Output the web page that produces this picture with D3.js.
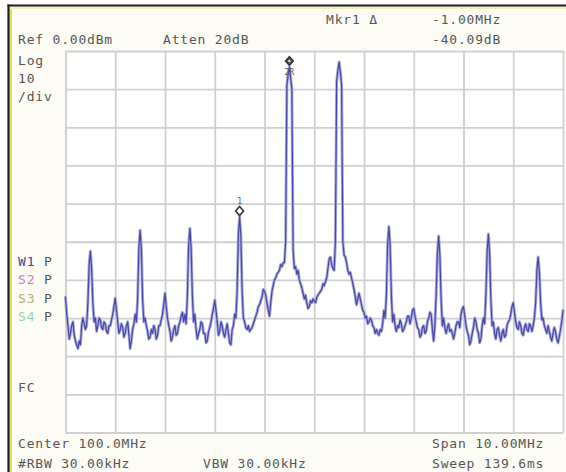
<!DOCTYPE html>
<html>
<head>
<meta charset="utf-8">
<script src="https://cdn.jsdelivr.net/npm/d3@7"></script>
<style>
  html, body { margin: 0; padding: 0; background: #ffffff; }
  svg { display: block; }
  text { font-family: "DejaVu Sans Mono", "Liberation Mono", monospace; font-size: 13px; letter-spacing: 0.8px; fill: #555; }
</style>
</head>
<body>
<svg id="chart" width="566" height="472"></svg>
<script>
// ---------------- data ----------------
const startFreq = 95.0;      // MHz (Center 100 MHz, Span 10 MHz)
const stepFreq = 0.025;      // MHz per trace point
const freqTicks = [95, 96, 97, 98, 99, 100, 101, 102, 103, 104, 105];
const levelTicks = [0, -10, -20, -30, -40, -50, -60, -70, -80, -90, -100];
// trace levels (dBm), one per 25 kHz from 95.000 to 105.000 MHz (40 per MHz)
const traceLevels = [
  // 95 MHz
  -64.5,-69,-72,-75.5,-74,-72,-71,-74.5,-76,-77,-78,-76,-77,-72,-70,-71.5,-73,-72,-66,-56,
  -52.5,-57,-66,-71,-70,-73.5,-72,-70,-70.5,-72.5,-73,-71,-71.5,-73.5,-74,-72,-72,-70.5,-69,-67,
  // 96 MHz
  -64.8,-68,-71,-74,-73,-71.5,-72.5,-75,-74,-72,-71,-74.5,-78,-76,-73,-71.5,-69,-71,-65,-51.5,
  -47,-52,-65,-71,-70,-72,-73.5,-75.5,-75,-73,-74,-72,-73,-75.5,-74.5,-72,-72,-70.5,-69,-66.5,
  // 97 MHz
  -63.5,-67,-70,-72,-73.5,-76,-75,-73,-72,-74.5,-74,-72,-71,-69.5,-68.5,-71,-69,-71.5,-64,-51,
  -46.5,-51.5,-64,-71,-69,-73,-75.5,-74,-73,-71,-71.5,-74,-74,-76.5,-76,-73.5,-72.5,-71,-69,-67.5,
  // 98 MHz
  -65.3,-68,-71,-74.5,-73.5,-71,-72,-74,-75,-73,-71.5,-74,-76.5,-77,-73,-72,-69,-70,-63,-48,
  -43.5,-48.5,-63,-70,-71,-72.5,-73,-72,-73.5,-73,-72.5,-71.5,-70.5,-69.5,-68.5,-67,-66.5,-65.5,-64.5,-62.5,
  // 99 MHz
  -63,-64,-66,-68,-69.5,-66,-63,-61.5,-60,-59.5,-58.5,-58,-57.5,-56,-56.5,-55.5,-55.5,-50,-9,-6,
  -4.2,-7,-10,-52,-57,-56.5,-58.5,-57.5,-60,-61,-62,-63.5,-65,-64,-66,-67.5,-67,-65.5,-66,-65,
  // 100 MHz
  -65.5,-66,-64.5,-64,-63.5,-63,-62.5,-61,-61.5,-60.5,-59.5,-57,-54.5,-54,-56,-57,-57.5,-50,-8,-5,
  -2.9,-5.5,-9,-50,-53.5,-54,-55.5,-57.5,-58.5,-58,-59.5,-61,-62.5,-64.5,-66.5,-65,-63.5,-65,-66.5,-68,
  // 101 MHz
  -68.5,-70,-69.5,-71.5,-71,-70,-70.5,-72,-72.5,-74,-73,-74,-74.5,-73,-73.5,-71.5,-68,-70,-64,-50.5,
  -46,-51,-64,-71,-69,-72,-73.5,-72,-72.5,-70.5,-71.5,-73.5,-73,-72,-71,-69.5,-69.5,-71.5,-70,-68,
  // 102 MHz
  -67.5,-69.5,-71,-72.5,-73,-75,-74.5,-72.5,-72,-74,-73.5,-71,-70,-68.5,-69,-73,-76,-72,-64,-53,
  -48.5,-53.5,-65,-72,-70,-72.5,-74,-72.5,-71.5,-73.5,-73,-74,-75.5,-74,-72,-71,-71,-72.5,-69,-67.5,
  // 103 MHz
  -67,-69.5,-72,-73.5,-74.5,-77,-76,-74,-72.5,-70,-71,-73,-74,-76.5,-75.5,-72,-70,-71.5,-64,-52.5,
  -48,-53,-65,-72,-71,-74,-75.5,-73,-72.5,-74.5,-76,-74,-73,-75,-74.5,-72,-71,-70.5,-69,-67,
  // 104 MHz
  -66,-68.5,-71,-72.5,-73,-71,-72,-74,-74.5,-72.5,-71.5,-73,-73.5,-71.5,-72,-73.5,-72,-70,-66,-57.5,
  -54,-58,-66,-70.5,-70,-72,-73,-74,-72,-73.5,-75,-76,-74,-72.5,-73.5,-75.5,-76.5,-75,-73,-71,
  // 105 MHz
  -68
];
const markerFreqs = [98.5, 99.5];
const markerNames = ["1", "2R"];
const headerTexts = [
  { t: "Mkr1 \u0394", x: 326, y: 24 },
  { t: "-1.00MHz", x: 432, y: 24 },
  { t: "Ref 0.00dBm", x: 18, y: 44 },
  { t: "Atten 20dB", x: 163, y: 44 },
  { t: "-40.09dB", x: 432, y: 44 },
  { t: "Log", x: 18, y: 65 },
  { t: "10", x: 18, y: 83 },
  { t: "/div", x: 18, y: 101 },
  { t: "FC", x: 18, y: 392 },
  { t: "Center 100.0MHz", x: 18, y: 448 },
  { t: "Span 10.00MHz", x: 432, y: 448 },
  { t: "#RBW 30.00kHz", x: 18, y: 468 },
  { t: "VBW 30.00kHz", x: 203, y: 468 },
  { t: "Sweep 139.6ms", x: 432, y: 468 }
];
const traceNames = ["W1", "S2", "S3", "S4"];
const traceColors = ["#3f3f95", "#c77fc4", "#b0b078", "#98d4a8"];

// ---------------- drawing ----------------
const svg = d3.select("#chart");
const W = 566, H = 472;
const plot = { left: 65.5, right: 563, top: 51, bottom: 432.5 };

const x = d3.scaleLinear().domain([95, 105]).range([plot.left, plot.right]);
const y = d3.scaleLinear().domain([0, -100]).range([plot.top, plot.bottom]);

// frame
svg.append("rect").attr("x", 0).attr("y", 0).attr("width", W).attr("height", H).attr("fill", "#ffffff");
svg.append("rect").attr("x", 9).attr("y", 6).attr("width", W - 9).attr("height", H - 6).attr("fill", "#fcfcf5");
svg.append("rect").attr("x", 9.5).attr("y", 7).attr("width", 2.5).attr("height", H - 7).attr("fill", "#e3dc55");
svg.append("rect").attr("x", 9.5).attr("y", 7).attr("width", W - 9).attr("height", 2).attr("fill", "#f1eeb5");
svg.append("line").attr("x1", 7.5).attr("x2", W).attr("y1", 5.5).attr("y2", 5.5).attr("stroke", "#1e1e1e").attr("stroke-width", 2.2);
svg.append("line").attr("x1", 8.5).attr("x2", 8.5).attr("y1", 4.5).attr("y2", H).attr("stroke", "#1e1e1e").attr("stroke-width", 2.2);

// plot background
svg.append("rect")
  .attr("x", plot.left).attr("y", plot.top)
  .attr("width", plot.right - plot.left).attr("height", plot.bottom - plot.top)
  .attr("fill", "#ffffff");

// grid via axes
const gx = svg.append("g")
  .attr("transform", `translate(0,${plot.top})`)
  .call(d3.axisBottom(x).tickValues(freqTicks).tickSize(plot.bottom - plot.top).tickFormat(""));
const gy = svg.append("g")
  .attr("transform", `translate(${plot.left},0)`)
  .call(d3.axisRight(y).tickValues(levelTicks).tickSize(plot.right - plot.left).tickFormat(""));
[gx, gy].forEach(g => {
  g.select(".domain").remove();
  g.selectAll(".tick line").attr("stroke", "#cfcfcf").attr("stroke-width", 1.8);
});

// trace
const pts = traceLevels.map((v, i) => ({ f: startFreq + i * stepFreq, v }));
const line = d3.line().x(d => x(d.f)).y(d => y(d.v));
svg.append("path").datum(pts).attr("d", line)
  .attr("fill", "none").attr("stroke", "#acacde").attr("stroke-width", 3)
  .attr("stroke-linejoin", "round").attr("stroke-linecap", "round");
svg.append("path").datum(pts).attr("d", line)
  .attr("fill", "none").attr("stroke", "#4747a6").attr("stroke-width", 1.2)
  .attr("stroke-linejoin", "round").attr("stroke-linecap", "round");

// markers
markerFreqs.forEach((mf, k) => {
  const idx = Math.round((mf - startFreq) / stepFreq);
  const v = traceLevels[idx];
  const cx = x(mf), cy = y(v) - 6;
  const d = `M${cx},${cy - 4.5}L${cx + 4},${cy}L${cx},${cy + 4.5}L${cx - 4},${cy}Z`;
  if (k === 0) {
    svg.append("path").attr("d", d).attr("fill", "#ffffff").attr("stroke", "#333").attr("stroke-width", 1.6);
    svg.append("text").attr("x", cx).attr("y", cy - 7).attr("text-anchor", "middle")
      .style("font-size", "8px").style("letter-spacing", "0px").text(markerNames[k]);
  } else {
    svg.append("path").attr("d", d).attr("fill", "#555").attr("stroke", "#333").attr("stroke-width", 1.4);
    svg.append("circle").attr("cx", cx).attr("cy", cy).attr("r", 1.2).attr("fill", "#ddd");
    svg.append("text").attr("x", cx).attr("y", cy + 14).attr("text-anchor", "middle")
      .style("font-size", "8px").style("letter-spacing", "0px").text(markerNames[k]);
  }
});

// texts
svg.selectAll("text.hdr").data(headerTexts).enter().append("text")
  .attr("class", "hdr").attr("x", d => d.x).attr("y", d => d.y).text(d => d.t);

// trace legend
const lg = svg.selectAll("g.lg").data(traceNames).enter().append("g").attr("class", "lg");
lg.append("text").attr("x", 18).attr("y", (d, i) => 266 + i * 18.3)
  .style("fill", (d, i) => traceColors[i]).text(d => d);
lg.append("text").attr("x", 44).attr("y", (d, i) => 266 + i * 18.3).text("P");
</script>
</body>
</html>
